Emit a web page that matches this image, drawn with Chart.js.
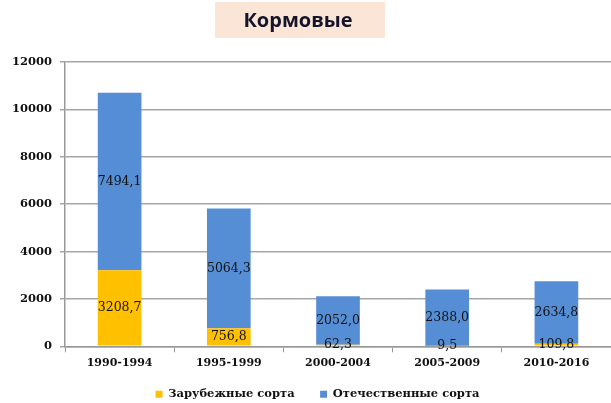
<!DOCTYPE html>
<html>
<head>
<meta charset="utf-8">
<script src="https://cdn.jsdelivr.net/npm/chart.js@4.4.1/dist/chart.umd.min.js"></script>
<style>
  html, body { margin: 0; padding: 0; background: #fff; }
  #wrap { width: 611px; height: 403px; overflow: hidden; }
</style>
</head>
<body>
<div id="wrap"><canvas id="chart" width="611" height="403"></canvas></div>
<script>
    // ==================== DATA ====================
    const periods = ['1990-1994', '1995-1999', '2000-2004', '2005-2009', '2010-2016'];
    const foreignVarieties = [3208.7, 756.8, 62.3, 9.5, 109.8];
    const domesticVarieties = [7494.1, 5064.3, 2052.0, 2388.0, 2634.8];
    const seriesNames = ['Зарубежные сорта', 'Отечественные сорта'];
    const chartTitle = 'Кормовые';
    const yMax = 12000;
    const yStep = 2000;

    const serif = '"DejaVu Serif", "Liberation Serif", serif';

    // title in a pink box (not centred on the plot in the original)
    const titleBox = {
        id: 'titleBox',
        beforeDraw(chart) {
            const ctx = chart.ctx;
            ctx.save();
            ctx.fillStyle = '#FBE5D6';
            ctx.fillRect(215, 2, 170, 36);
            ctx.font = 'bold 20px "Open Sans", "Liberation Sans", sans-serif';
            ctx.fillStyle = '#14142a';
            ctx.textAlign = 'center';
            ctx.textBaseline = 'middle';
            ctx.fillText(chartTitle, 298, 21);
            ctx.restore();
        }
    };

    // value labels in the middle of every segment
    const segmentLabels = {
        id: 'segmentLabels',
        afterDatasetsDraw(chart) {
            const ctx = chart.ctx;
            ctx.save();
            ctx.font = '12.5px ' + serif;
            ctx.fillStyle = '#111';
            ctx.textAlign = 'center';
            ctx.textBaseline = 'middle';
            chart.data.datasets.forEach((ds, i) => {
                const meta = chart.getDatasetMeta(i);
                meta.data.forEach((bar, j) => {
                    const v = ds.data[j];
                    const y = (bar.y + bar.base) / 2;
                    ctx.fillText(v.toFixed(1).replace('.', ','), bar.x, y);
                });
            });
            ctx.restore();
        }
    };

    new Chart(document.getElementById('chart').getContext('2d'), {
        type: 'bar',
        data: {
            labels: periods,
            datasets: [
                { label: seriesNames[0], data: foreignVarieties, backgroundColor: '#FFC000', categoryPercentage: 0.8, barPercentage: 0.5 },
                { label: seriesNames[1], data: domesticVarieties, backgroundColor: '#558ED5', categoryPercentage: 0.8, barPercentage: 0.5 }
            ]
        },
        options: {
            responsive: false,
            animation: false,
            // the original picture is cut off on the right
            layout: { padding: { left: 4, right: -20, top: 62, bottom: -7 } },
            plugins: {
                title: { display: false },
                legend: {
                    position: 'bottom',
                    labels: {
                        boxWidth: 7,
                        boxHeight: 7,
                        color: '#111',
                        padding: 14,
                        font: { family: serif, size: 11.5, weight: 'bold' },
                        // wider gap after the first item, like the original
                        generateLabels(chart) {
                            const items = Chart.defaults.plugins.legend.labels.generateLabels(chart);
                            items.forEach((it, i) => { if (i < items.length - 1) it.text += '\u2003'; });
                            return items;
                        }
                    }
                },
                tooltip: { enabled: false }
            },
            scales: {
                x: {
                    stacked: true,
                    grid: { display: true, drawOnChartArea: false, drawTicks: true, tickLength: 6, color: '#999', offset: true },
                    border: { color: '#999', width: 1.5 },
                    ticks: { color: '#111', font: { family: serif, size: 11, weight: 'bold' }, padding: 4 },
                    afterFit(scale) { scale.height += 1; }
                },
                y: {
                    stacked: true,
                    min: 0,
                    max: yMax,
                    ticks: {
                        stepSize: yStep,
                        color: '#111',
                        font: { family: serif, size: 11.5, weight: 'bold' },
                        padding: 8,
                        callback: v => String(v)
                    },
                    grid: { color: '#A6A6A6', lineWidth: 1.5, tickLength: 5 },
                    border: { color: '#999', width: 1.5 }
                }
            }
        },
        plugins: [titleBox, segmentLabels]
    });
</script>
</body>
</html>
